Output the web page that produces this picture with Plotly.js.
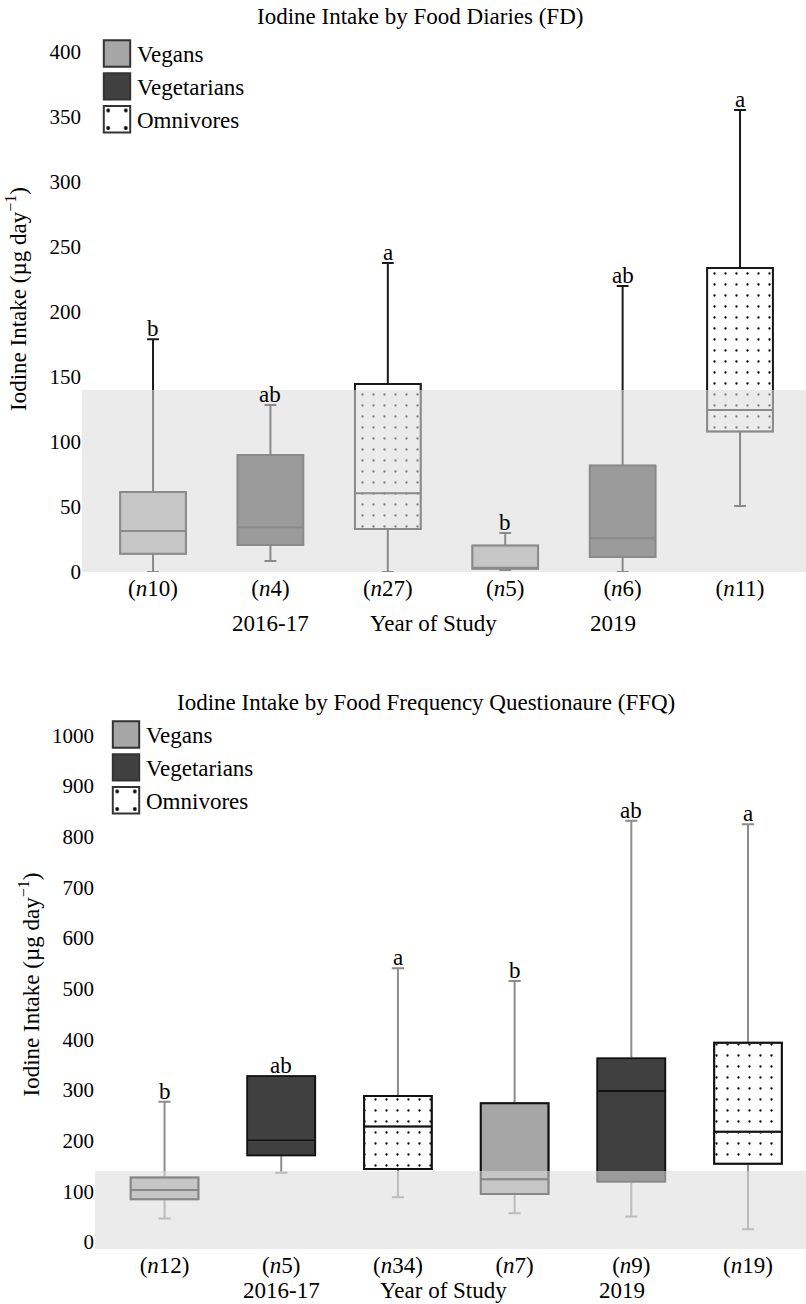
<!DOCTYPE html>
<html><head><meta charset="utf-8">
<script src="https://cdn.plot.ly/plotly-3.0.1.min.js"></script>
<style>html,body{margin:0;padding:0;background:#fff}</style>
</head><body><div id="chart" style="width:806px;height:1304px"></div>
<script>
// ---------- DATA ----------
const groupNames = ['Vegans', 'Vegetarians', 'Omnivores'];
const boxGroups = ['Vegans', 'Vegetarians', 'Omnivores', 'Vegans', 'Vegetarians', 'Omnivores'];
const yearLabels = ['2016-17', 'Year of Study', '2019'];
const RNI = 140;

// Food diaries (FD)
const fdTitle = 'Iodine Intake by Food Diaries (FD)';
const fdN = [10, 4, 27, 5, 6, 11];
const fdLower = [0, 8.5, 0, 1.5, 0, 50.8];
const fdQ1 = [14, 20.8, 33, 2.5, 11.5, 108];
const fdMedian = [31.5, 34.5, 60.6, 3, 26, 124.6];
const fdQ3 = [61.5, 90, 144.6, 20.3, 82, 233.8];
const fdUpper = [179, 128.5, 237.7, 30, 220, 355.4];
const fdLetters = ['b', 'ab', 'a', 'b', 'ab', 'a'];
const fdTicks = [0, 50, 100, 150, 200, 250, 300, 350, 400];

// Food frequency questionnaire (FFQ)
const ffqTitle = 'Iodine Intake by Food Frequency Questionaure (FFQ)';
const ffqN = [12, 5, 34, 7, 9, 19];
const ffqLower = [46, 136.7, 88, 56.6, 50, 25];
const ffqQ1 = [84, 171, 144, 94.7, 119, 154];
const ffqMedian = [102.6, 200.6, 228, 123.6, 298, 217.6];
const ffqQ3 = [127, 327, 288, 273.5, 362, 393];
const ffqUpper = [276.7, 327, 540, 515, 831, 824.5];
const ffqLetters = ['b', 'ab', 'a', 'b', 'ab', 'a'];
const ffqTicks = [0, 100, 200, 300, 400, 500, 600, 700, 800, 900, 1000];

// ---------- STYLE ----------
const FONT = 'Liberation Serif, Times New Roman, serif';
const groupFill = {Vegans: '#a6a6a6', Vegetarians: '#404040', Omnivores: '#ffffff'};
const bandColor = 'rgba(220,220,220,0.58)';
const positions = fdN.map((_, i) => i);
const yearPos = [1, 2.39, 3.92];
const TXT = 23;

function buildChart(d) {
  const traces = [];
  groupNames.forEach(g => {
    const idx = positions.filter(i => boxGroups[i] === g);
    const pick = a => idx.map(i => a[i]);
    const bar = {
      type: 'bar', name: g, legend: d.legend, xaxis: d.xa, yaxis: d.ya,
      x: idx, base: pick(d.q1), y: idx.map(i => d.q3[i] - d.q1[i]), width: d.width,
      marker: {color: groupFill[g], line: {color: '#333', width: 1.5}},
      hoverinfo: 'skip'
    };
    if (g === 'Omnivores') {
      bar.marker.pattern = {shape: '.', fgcolor: '#000', bgcolor: '#fff', size: 11, solidity: 0.035, fillmode: 'replace'};
    }
    traces.push(bar);
    traces.push({
      type: 'box', orientation: 'v', showlegend: false, xaxis: d.xa, yaxis: d.ya,
      x: idx, q1: pick(d.q1), median: pick(d.median), q3: pick(d.q3),
      lowerfence: pick(d.lower), upperfence: pick(d.upper),
      width: d.width, whiskerwidth: 0.18, boxpoints: false,
      fillcolor: 'rgba(0,0,0,0)', line: {color: d.whisker, width: 2}, hoverinfo: 'skip'
    });
    if (d.edge !== d.whisker) {
      traces.push({
        type: 'box', orientation: 'v', showlegend: false, xaxis: d.xa, yaxis: d.ya,
        x: idx, q1: pick(d.q1), median: pick(d.median), q3: pick(d.q3),
        lowerfence: pick(d.q1), upperfence: pick(d.q3),
        width: d.width, whiskerwidth: 0, boxpoints: false,
        fillcolor: 'rgba(0,0,0,0)', line: {color: d.edge, width: 2}, hoverinfo: 'skip'
      });
    }
  });
  return traces;
}

const fd = {legend: 'legend', xa: 'x', ya: 'y', q1: fdQ1, median: fdMedian, q3: fdQ3,
  lower: fdLower, upper: fdUpper, width: 0.56, whisker: '#1a1a1a', edge: '#1a1a1a'};
const ffq = {legend: 'legend2', xa: 'x2', ya: 'y2', q1: ffqQ1, median: ffqMedian, q3: ffqQ3,
  lower: ffqLower, upper: ffqUpper, width: 0.58, whisker: '#8c8c8c', edge: '#111'};

const data = buildChart(fd).concat(buildChart(ffq));

const fdRange = [0, 420];
const ffqRange = [-14, 1030];

const annotations = [];
const txt = () => ({size: TXT, family: FONT, color: '#000'});
annotations.push({text: fdTitle, xref: 'paper', yref: 'paper', x: 420 / 806, y: 1 - 17 / 1304,
  xanchor: 'center', yanchor: 'middle', showarrow: false, font: txt()});
annotations.push({text: ffqTitle, xref: 'paper', yref: 'paper', x: 426 / 806, y: 1 - 702 / 1304,
  xanchor: 'center', yanchor: 'middle', showarrow: false, font: txt()});
positions.forEach(i => {
  annotations.push({text: fdLetters[i], xref: 'x', yref: 'y', x: i, y: fdUpper[i],
    xanchor: 'center', yanchor: 'bottom', yshift: -4, showarrow: false, font: txt()});
  annotations.push({text: ffqLetters[i], xref: 'x2', yref: 'y2', x: i, y: ffqUpper[i],
    xanchor: 'center', yanchor: 'bottom', yshift: -4, showarrow: false, font: txt()});
});
yearLabels.forEach((t, k) => {
  annotations.push({text: t, xref: 'x', yref: 'paper', x: yearPos[k], y: 1 - 623 / 1304,
    xanchor: 'center', yanchor: 'middle', showarrow: false, font: txt()});
  annotations.push({text: t, xref: 'x2', yref: 'paper', x: yearPos[k], y: 1 - 1290 / 1304,
    xanchor: 'center', yanchor: 'middle', showarrow: false, font: txt()});
});

const yTitle = 'Iodine Intake (µg day<sup>−1</sup>)';
const axisCommon = {showgrid: false, zeroline: false, showline: false, ticks: '', fixedrange: true};

const layout = {
  width: 806, height: 1304,
  margin: {l: 0, r: 0, t: 0, b: 0},
  paper_bgcolor: '#fff', plot_bgcolor: '#fff',
  font: {family: FONT, color: '#000', size: TXT},
  barmode: 'overlay', boxmode: 'overlay',
  xaxis: Object.assign({}, axisCommon, {domain: [82 / 806, 1], range: [-0.605, 5.562], anchor: 'y',
    tickvals: positions, ticktext: fdN.map(n => '(<i>n</i>' + n + ')'), tickfont: {size: TXT}}),
  yaxis: Object.assign({}, axisCommon, {domain: [1 - 572 / 1304, 1 - 26 / 1304], range: fdRange, anchor: 'x',
    tickvals: fdTicks, tickfont: {size: 21}, title: {text: yTitle, font: {size: TXT}}}),
  xaxis2: Object.assign({}, axisCommon, {domain: [95 / 806, 1], range: [-0.596, 5.497], anchor: 'y2',
    tickvals: positions, ticktext: ffqN.map(n => '(<i>n</i>' + n + ')'), tickfont: {size: TXT}}),
  yaxis2: Object.assign({}, axisCommon, {domain: [1 - 1249 / 1304, 1 - 720 / 1304], range: ffqRange, anchor: 'x2',
    tickvals: ffqTicks, tickfont: {size: 21}, title: {text: yTitle, font: {size: TXT}}}),
  shapes: [
    {type: 'rect', xref: 'x domain', yref: 'y', x0: 0, x1: 1, y0: fdRange[0], y1: RNI,
      fillcolor: bandColor, line: {width: 0}, layer: 'above'},
    {type: 'rect', xref: 'x2 domain', yref: 'y2', x0: 0, x1: 1, y0: ffqRange[0], y1: RNI,
      fillcolor: bandColor, line: {width: 0}, layer: 'above'}
  ],
  legend: {x: 97 / 806, y: 1 - 32 / 1304, xanchor: 'left', yanchor: 'top', bgcolor: 'rgba(0,0,0,0)',
    font: {size: TXT}, itemclick: false, itemdoubleclick: false},
  legend2: {x: 106 / 806, y: 1 - 713 / 1304, xanchor: 'left', yanchor: 'top', bgcolor: 'rgba(0,0,0,0)',
    font: {size: TXT}, itemclick: false, itemdoubleclick: false},
  annotations: annotations,
  showlegend: true
};

Plotly.newPlot('chart', data, layout, {staticPlot: true, displayModeBar: false}).then(() => {
  document.querySelectorAll('.legendpoints path').forEach(p => {
    const t = p.getAttribute('transform') || '';
    p.setAttribute('transform', t + ' scale(2.2)');
    p.style.strokeWidth = '0.9px';
  });
});
</script></body></html>
